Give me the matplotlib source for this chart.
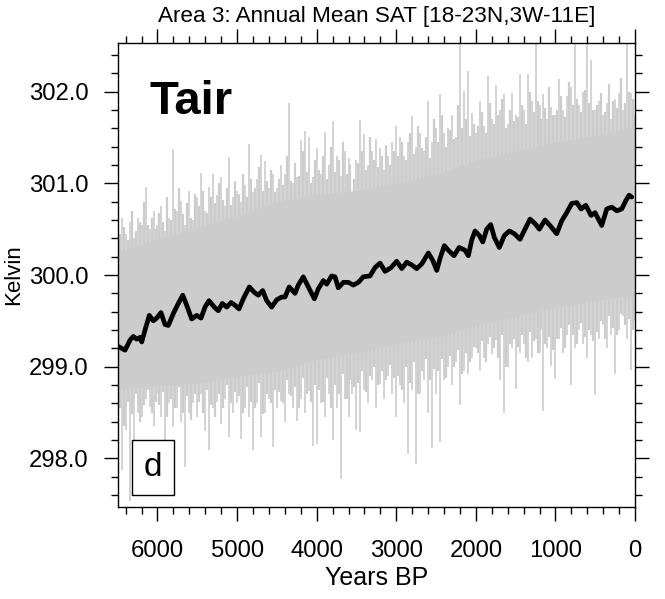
import numpy as np
import matplotlib
matplotlib.use("Agg")
import matplotlib.pyplot as plt
from matplotlib.ticker import MultipleLocator, FormatStrFormatter

plt.rcParams['font.family'] = ['Liberation Sans', 'DejaVu Sans']

gray_years = np.arange(6500, -1, -50)
gray_hi = [
    300.30, 300.62, 300.45, 300.58, 300.40, 300.62, 300.55, 300.96, 300.50, 300.70,
    300.55, 300.75, 300.48, 300.62, 301.37, 300.70, 300.81, 300.55, 300.92, 300.60,
    300.85, 301.11, 300.70, 300.96, 301.10, 300.87, 301.07, 300.75, 301.29, 300.85,
    300.92, 300.80, 300.98, 301.43, 300.90, 301.05, 301.31, 301.24, 300.95, 301.10,
    300.95, 301.20, 301.10, 301.88, 301.00, 301.07, 301.47, 301.57, 301.50, 301.07,
    301.38, 301.10, 301.56, 301.20, 301.68, 301.30, 301.08, 301.35, 301.28, 300.85,
    301.25, 301.69, 301.54, 301.20, 301.35, 301.48, 301.39, 301.15, 301.30, 301.45,
    301.62, 301.50, 301.30, 301.45, 301.73, 301.40, 301.55, 301.35, 301.90, 301.45,
    301.60, 301.97, 301.55, 301.60, 301.75, 301.50, 302.60, 302.01, 302.22, 301.77,
    301.55, 301.90, 301.62, 302.17, 301.70, 302.07, 301.80, 301.97, 301.65, 301.99,
    301.75, 302.19, 301.80, 302.19, 301.90, 302.60, 301.85, 301.97, 301.70, 301.83,
    301.75, 302.14, 301.80, 301.95, 302.05, 302.60, 301.85, 302.00, 302.60, 302.34,
    301.80, 301.90, 301.75, 301.88, 301.70, 301.92, 301.99, 301.80, 302.60, 301.98,
    301.75,
]
gray_lo = [
    298.40, 297.87, 298.31, 297.54, 298.12, 298.49, 298.45, 298.65, 298.56, 298.35,
    298.71, 298.45, 298.12, 298.60, 298.34, 298.55, 298.40, 297.91, 298.50, 298.60,
    298.45, 298.70, 298.30, 298.09, 298.55, 298.62, 298.38, 298.65, 298.23, 298.50,
    298.60, 298.21, 298.55, 298.45, 298.09, 298.60, 298.23, 298.50, 298.65, 298.12,
    298.55, 298.63, 298.40, 298.70, 298.55, 298.41, 298.65, 298.50, 298.74, 298.14,
    298.16, 298.60, 298.45, 298.70, 298.20, 298.55, 297.78, 298.65, 298.45, 298.70,
    298.31, 298.29, 298.75, 298.60, 298.85, 298.55, 298.81, 298.65, 298.90, 298.70,
    298.45, 298.80, 298.60, 298.05, 298.75, 297.94, 298.70, 298.85, 298.50, 298.11,
    298.70, 298.18, 298.85, 299.00, 298.80, 299.05, 298.58, 298.95, 298.92, 299.10,
    299.20, 298.95, 299.10, 299.25, 299.14, 299.29, 298.85, 298.50, 299.00, 299.20,
    298.76, 299.15, 299.25, 299.05, 299.10, 299.30, 299.15, 298.52, 299.20, 299.01,
    298.87, 299.30, 299.15, 299.35, 298.80, 299.20, 299.40, 299.25, 299.10, 299.35,
    298.69, 299.30, 299.45, 299.20, 299.35, 298.92, 299.40, 299.55, 299.30, 298.96,
    299.50,
]

# inner spikes, between the outer ones (6475 BP ... 25 BP)
gray_years2 = np.arange(6475, 0, -50)
gray_hi2 = [
    300.45, 300.52, 300.38, 300.70, 300.48, 300.58, 300.80, 300.55, 300.62, 300.50,
    300.68, 300.58, 300.85, 300.60, 300.72, 300.95, 300.66, 300.78, 300.62, 300.88,
    300.75, 300.92, 300.68, 300.85, 300.78, 301.00, 300.82, 300.95, 300.76, 301.02,
    300.88, 301.10, 300.85, 301.05, 300.95, 301.18, 300.92, 301.02, 301.15, 300.90,
    301.05, 300.98, 301.30, 301.02, 301.22, 301.08, 301.35, 301.12, 301.00, 301.25,
    301.15, 301.30, 301.05, 301.40, 301.12, 301.25, 301.45, 301.10, 301.20, 301.05,
    301.22, 301.35, 301.15, 301.50, 301.25, 301.18, 301.30, 301.42, 301.20, 301.35,
    301.30, 301.45, 301.25, 301.55, 301.32, 301.62, 301.38, 301.50, 301.28, 301.70,
    301.45, 301.75, 301.40, 301.58, 301.48, 301.85, 301.60, 301.70, 301.52, 301.65,
    301.62, 301.78, 301.55, 301.88, 301.65, 301.75, 301.92, 301.60, 301.80, 301.68,
    301.72, 301.85, 301.65, 302.00, 301.78, 301.90, 301.70, 301.82, 302.05, 301.75,
    301.80, 301.95, 301.72, 302.10, 301.85, 301.92, 301.78, 302.02, 301.88, 301.80,
    301.85, 301.98, 301.78, 302.08, 301.90, 301.82, 302.15, 301.88, 302.00, 301.92,
]
gray_lo2 = [
    298.55, 298.35, 298.62, 298.48, 298.70, 298.40, 298.58, 298.75, 298.50, 298.62,
    298.58, 298.72, 298.45, 298.65, 298.55, 298.78, 298.50, 298.68, 298.42, 298.70,
    298.62, 298.50, 298.75, 298.58, 298.45, 298.70, 298.55, 298.80, 298.60, 298.72,
    298.68, 298.50, 298.78, 298.62, 298.55, 298.82, 298.48, 298.70, 298.60, 298.75,
    298.72, 298.60, 298.85, 298.68, 298.78, 298.55, 298.88, 298.70, 298.62, 298.80,
    298.75, 298.62, 298.88, 298.55, 298.80, 298.70, 298.92, 298.65, 298.85, 298.78,
    298.82, 298.95, 298.72, 298.90, 299.00, 298.80, 298.95, 298.85, 299.02, 298.88,
    298.90, 298.75, 299.00, 298.82, 299.05, 298.70, 298.95, 299.08, 298.85, 298.98,
    298.95, 299.08, 298.88, 299.12, 299.00, 299.18, 298.92, 299.15, 299.05, 299.22,
    299.15, 299.28, 299.05, 299.32, 299.20, 299.10, 299.35, 299.00, 299.25, 299.30,
    299.22, 299.35, 299.10, 299.38, 299.28, 299.15, 299.40, 299.25, 299.32, 299.18,
    299.30, 299.42, 299.20, 299.45, 299.35, 299.25, 299.48, 299.32, 299.40, 299.28,
    299.38, 299.50, 299.30, 299.55, 299.42, 299.35, 299.58, 299.45, 299.52, 299.40,
]

# dense core of the annual values
core_years = [6500, 6000, 5500, 5000, 4500, 4000, 3500, 3000, 2500, 2000, 1500, 1000, 500, 0]
core_hi = [300.25, 300.40, 300.52, 300.65, 300.80, 300.88, 300.92, 301.00, 301.10, 301.25, 301.35, 301.45, 301.52, 301.62]
core_lo = [298.75, 298.80, 298.82, 298.90, 298.95, 299.08, 299.15, 299.25, 299.32, 299.45, 299.55, 299.65, 299.72, 299.78]

# running mean (black)
mean_years = [
    6490, 6471, 6408, 6345, 6304, 6261, 6220, 6198, 6157, 6103, 6052, 6010, 5956, 5906, 5864,
    5801, 5738, 5683, 5633, 5570, 5507, 5453, 5403, 5353, 5286, 5236, 5186, 5130, 5076, 5026,
    4976, 4922, 4846, 4783, 4733, 4678, 4628, 4565, 4502, 4439, 4398, 4345, 4272, 4231, 4168,
    4105, 4029, 3979, 3916, 3874, 3811, 3769, 3728, 3665, 3602, 3539, 3476, 3414, 3330, 3267,
    3204, 3141, 3066, 2994, 2931, 2868, 2805, 2743, 2680, 2597, 2542, 2491, 2450, 2396, 2346,
    2275, 2210, 2136, 2094, 2052, 2010, 1956, 1913, 1863, 1813, 1768, 1705, 1642, 1579, 1516,
    1445, 1382, 1319, 1256, 1202, 1131, 1068, 984, 921, 858, 795, 732, 678, 619, 552,
    502, 418, 355, 292, 229, 167, 116, 75, 41,
]
mean_vals = [
    299.22, 299.21, 299.18, 299.29, 299.33, 299.30, 299.32, 299.27, 299.40, 299.56, 299.50, 299.53, 299.59, 299.46, 299.45,
    299.58, 299.69, 299.78, 299.67, 299.52, 299.56, 299.53, 299.65, 299.72, 299.65, 299.61, 299.69, 299.65, 299.70, 299.67,
    299.63, 299.74, 299.87, 299.81, 299.78, 299.83, 299.72, 299.65, 299.73, 299.76, 299.76, 299.87, 299.80, 299.89, 299.98,
    299.87, 299.74, 299.85, 299.94, 299.90, 299.99, 299.98, 299.86, 299.92, 299.92, 299.89, 299.92, 299.98, 299.99, 300.08,
    300.13, 300.04, 300.08, 300.15, 300.07, 300.14, 300.11, 300.07, 300.12, 300.24, 300.16, 300.05, 300.18, 300.32, 300.27,
    300.21, 300.30, 300.27, 300.21, 300.38, 300.48, 300.43, 300.36, 300.50, 300.55, 300.41, 300.30, 300.43, 300.48, 300.45,
    300.39, 300.50, 300.61, 300.56, 300.50, 300.60, 300.54, 300.45, 300.59, 300.68, 300.78, 300.79, 300.72, 300.76, 300.65,
    300.68, 300.54, 300.72, 300.74, 300.70, 300.72, 300.81, 300.87, 300.85,
]

gray = '#cccccc'

fig = plt.figure(figsize=(6.65, 5.99), dpi=100)
ax = fig.add_axes([0.177, 0.1536, 0.7779, 0.7746])

ax.fill_between(core_years, core_lo, core_hi, color=gray, lw=0)
ax.vlines(gray_years2, gray_lo2, gray_hi2, color=gray, lw=1.6)
ax.vlines(gray_years, gray_lo, gray_hi, color=gray, lw=1.2)
ax.plot(mean_years, mean_vals, color='black', lw=3.4, solid_capstyle='round', solid_joinstyle='round')

ax.set_xlim(6500, 0)
ax.set_ylim(297.47, 302.53)

ax.xaxis.set_major_locator(MultipleLocator(1000))
ax.xaxis.set_minor_locator(MultipleLocator(200))
ax.yaxis.set_major_locator(MultipleLocator(1.0))
ax.yaxis.set_minor_locator(MultipleLocator(0.2))
ax.yaxis.set_major_formatter(FormatStrFormatter('%.1f'))
ax.tick_params(which='both', direction='out', top=True, right=True, width=1.0, labelsize=17.2)
ax.tick_params(which='major', length=10)
ax.tick_params(which='minor', length=5)
ax.tick_params(axis='y', which='major', pad=11)
ax.tick_params(axis='x', which='major', pad=14)
for s in ax.spines.values():
    s.set_linewidth(1.0)

ax.set_xlabel('Years BP', fontsize=18, labelpad=3)
ax.set_ylabel('Kelvin', fontsize=16)
ax.yaxis.set_label_coords(-0.181, 0.5)
fig.text(0.566, 0.973, 'Area 3: Annual Mean SAT [18-23N,3W-11E]', ha='center', va='center', fontsize=16.2)

ax.text(0.0605, 0.847, 'Tair', transform=ax.transAxes, fontsize=34, fontweight='bold', ha='left', va='baseline')
ax.text(0.0675, 0.085, 'd', transform=ax.transAxes, fontsize=24, ha='center', va='center',
        bbox=dict(boxstyle='square,pad=0.35', facecolor='white', edgecolor='black', lw=1.0))

fig.savefig('out.png', dpi=100)
